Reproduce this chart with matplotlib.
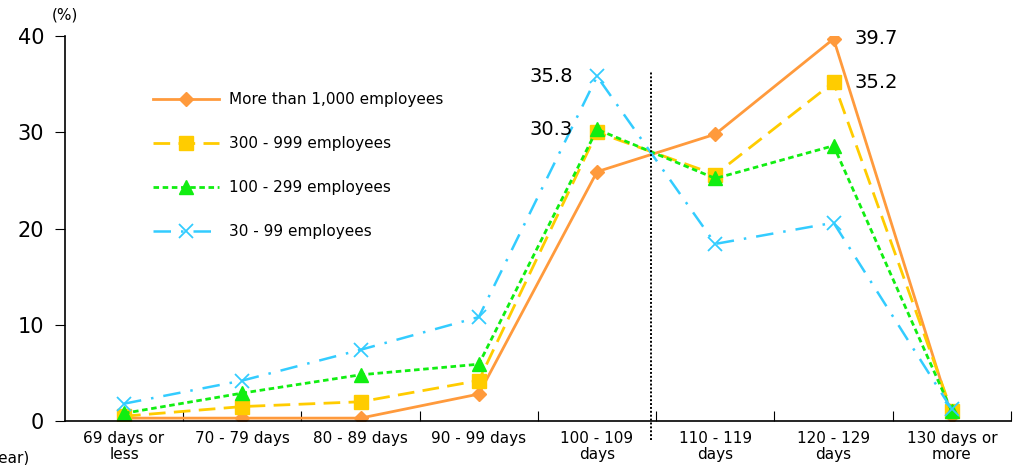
import numpy as np
import matplotlib.pyplot as plt

categories = ["69 days or\nless", "70 - 79 days", "80 - 89 days", "90 - 99 days",
              "100 - 109\ndays", "110 - 119\ndays", "120 - 129\ndays", "130 days or\nmore"]
over_1000 = [0.3, 0.3, 0.3, 2.8, 25.9, 29.8, 39.7, 0.5]
emp_300_999 = [0.5, 1.5, 2.0, 4.2, 30.0, 25.6, 35.2, 1.0]
emp_100_299 = [0.8, 2.9, 4.8, 5.9, 30.3, 25.2, 28.6, 1.0]
emp_30_99 = [1.8, 4.2, 7.4, 10.8, 35.8, 18.4, 20.6, 1.2]
series_labels = ["More than 1,000 employees", "300 - 999 employees",
                 "100 - 299 employees", "30 - 99 employees"]

fig = plt.figure(figsize=(10.14, 4.65), dpi=100)
ax = fig.add_axes([0.064, 0.0946, 0.933, 0.828])

x = np.arange(len(categories)) + 0.5

ax.plot(x, over_1000, color="#FF9A3C", lw=2, marker="D", ms=7,
        label=series_labels[0])
ax.plot(x, emp_300_999, color="#FFCC00", lw=2, ls=(0, (6, 3)), marker="s", ms=10,
        label=series_labels[1])
ax.plot(x, emp_100_299, color="#11EE11", lw=2, ls=(0, (2, 1.3)), marker="^", ms=10,
        label=series_labels[2])
ax.plot(x, emp_30_99, color="#33CCFF", lw=1.8, ls=(0, (7, 4, 1, 4)), marker="x", ms=10,
        mew=1.3, label=series_labels[3])

# divider between 100-109 and 110-119
ax.plot([4.96, 4.96], [-2, 36.3], color="black", lw=1.4, ls=(0, (1, 1)), clip_on=False)

ax.annotate("35.8", (x[4], emp_30_99[4]), xytext=(-24, 0), textcoords="offset pixels",
            ha="right", va="center", fontsize=14)
ax.annotate("30.3", (x[4], emp_100_299[4]), xytext=(-24, 0), textcoords="offset pixels",
            ha="right", va="center", fontsize=14)
ax.annotate("39.7", (x[6], over_1000[6]), xytext=(21, 0), textcoords="offset pixels",
            ha="left", va="center", fontsize=14)
ax.annotate("35.2", (x[6], emp_300_999[6]), xytext=(21, 0), textcoords="offset pixels",
            ha="left", va="center", fontsize=14)

ax.set_xlim(0, 8)
ax.set_ylim(0, 40)
ax.set_yticks([0, 10, 20, 30, 40])
ax.tick_params(axis="y", labelsize=15, length=7, direction="out", pad=8)
ax.set_xticks(np.arange(1, 9))
ax.set_xticklabels([])
ax.tick_params(axis="x", which="major", direction="in", length=7)
ax.set_xticks(x, minor=True)
ax.set_xticklabels(categories, minor=True, fontsize=11, linespacing=1.1)
ax.tick_params(axis="x", which="minor", length=0, pad=7)
for s in ["top", "right"]:
    ax.spines[s].set_visible(False)
ax.spines["left"].set_linewidth(1.2)
ax.spines["bottom"].set_linewidth(1.2)

fig.text(0.064, 0.967, "(%)", fontsize=11, ha="center", va="center")
fig.text(0.03, 0.015, "(days/year)", fontsize=11, ha="right", va="center")

ax.legend(loc="upper left", bbox_to_anchor=(0.079, 0.89), frameon=False,
          fontsize=11, handlelength=4.3, labelspacing=1.9, handletextpad=0.65)

fig.savefig("out.png", dpi=100)
